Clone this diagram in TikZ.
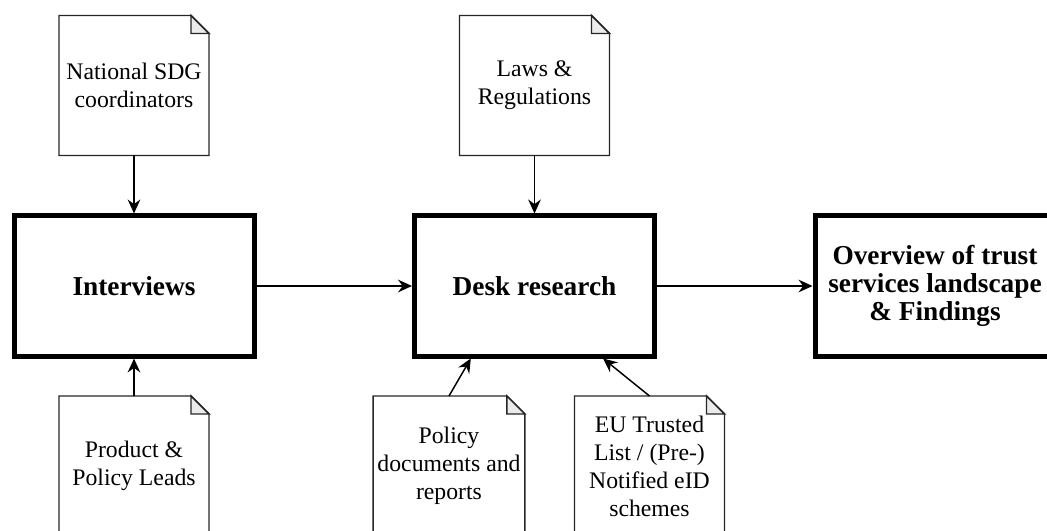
\documentclass[tikz,border=0pt]{standalone}
\usepackage{fontspec}
\setmainfont{Liberation Serif}
\usetikzlibrary{arrows.meta,calc}

% outline and folded corner of a document node
\newcommand{\docfold}[1]{%
  \draw[docline] (#1.south west) -- (#1.north west) -- ([xshift=-13.5pt]#1.north east)
    -- ([yshift=-13.5pt]#1.north east) -- (#1.south east) -- cycle;
  \filldraw[docline,fill=black!8] ([xshift=-13.5pt]#1.north east)
    -- ([xshift=-13.5pt,yshift=-13.5pt]#1.north east) -- ([yshift=-13.5pt]#1.north east) -- cycle;
}

\begin{document}
\begin{tikzpicture}[x=0.75pt,y=-0.75pt,
    step box/.style={draw,line width=3.75pt,minimum width=180pt,minimum height=105pt,
      align=center,font=\fontsize{20.5}{21}\selectfont\bfseries},
    docnote/.style={minimum width=112.5pt,minimum height=105pt,outer sep=0pt,
      align=center,font=\fontsize{17.8}{21}\selectfont},
    docline/.style={line width=1.1pt,black!85},
    flow/.style={line width=1.1pt,-{Stealth[length=10.5pt,width=9.5pt,inset=3.5pt]}}]
    \useasboundingbox (0,0) rectangle (1047,531);
    \clip (0,0) rectangle (1047,531);

    \node[step box] (intv) at (134,286) {Interviews};
    \node[step box] (desk) at (534.5,286) {Desk research};
    \node[step box] (over) at (935,286) {Overview of trust\\services landscape\\\& Findings};

    \node[docnote] (sdg) at (134,85.5) {National SDG\\coordinators};
    \node[docnote] (laws) at (534.5,85.5) {Laws \&\\Regulations};
    \node[docnote] (leads) at (134,466) {Product \&\\Policy Leads};
    \node[docnote] (poldoc) at (449,466) {Policy\\documents and\\reports};
    \node[docnote] (eutl) at (649.5,466) {EU Trusted\\List / (Pre-)\\Notified eID\\schemes};

    \docfold{sdg}
    \docfold{laws}
    \docfold{leads}
    \docfold{poldoc}
    \docfold{eutl}

    \draw[flow] (sdg.south) -- (intv.north);
    \draw[flow] (leads.north) -- (intv.south);
    \draw[flow] (laws.south) -- (desk.north);
    \draw[flow] (intv.east) -- (desk.west);
    \draw[flow] (desk.east) -- (over.west);
    \draw[flow] (poldoc.north) -- ($(desk.south west)!0.24!(desk.south east)$);
    \draw[flow] (eutl.north) -- ($(desk.south west)!0.78!(desk.south east)$);
\end{tikzpicture}
\end{document}
